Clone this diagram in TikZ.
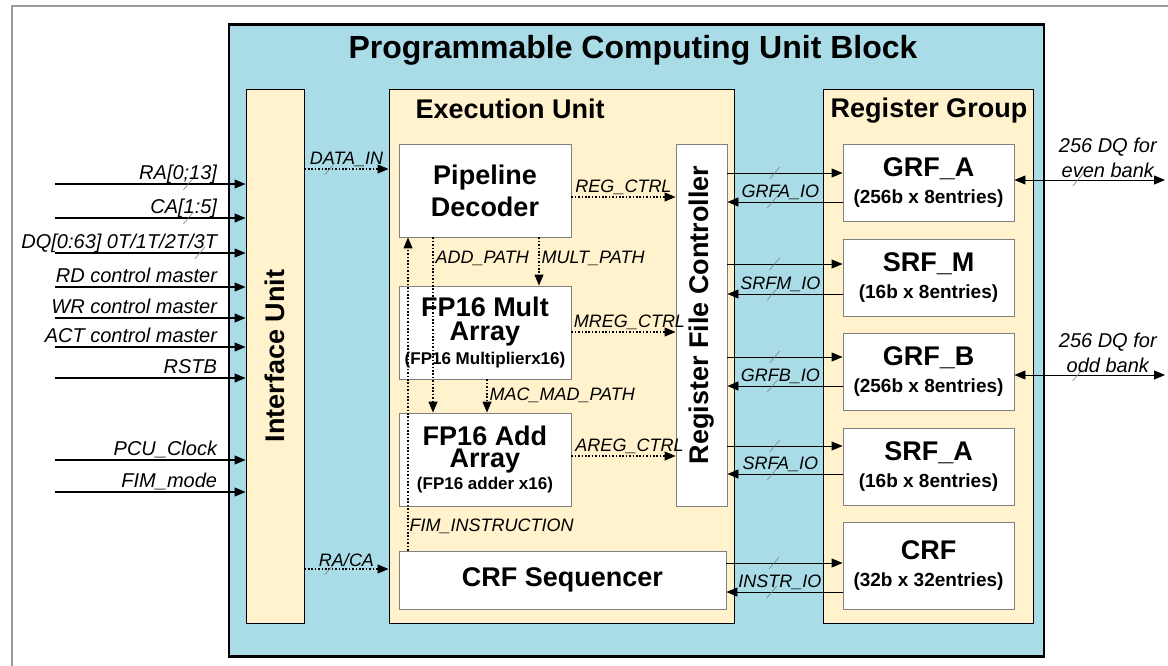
\documentclass[tikz,border=0pt]{standalone}
\usepackage{fontspec}
\setmainfont{Liberation Sans}
\usetikzlibrary{arrows.meta,decorations.markings}

\definecolor{pcublue}{RGB}{170,220,232}
\definecolor{unitcream}{RGB}{255,242,204}

\newcommand{\arraysub}[1]{{\fontsize{17}{20}\selectfont\bfseries #1}}
\newcommand{\regsub}[1]{{\fontsize{19}{22}\selectfont\bfseries #1}}

\begin{document}
\begin{tikzpicture}[
    x=1pt, y=-1pt,
    heading/.style={font=\fontsize{27}{27}\selectfont\bfseries},
    unit/.style={
        draw,
        line width=1pt,
        fill=unitcream,
        inner sep=0pt
    },
    block/.style={
        draw=gray,
        line width=0.9pt,
        fill=white,
        align=center,
        inner sep=0pt,
        minimum width=172,
        minimum height=93,
        font=\fontsize{27}{24}\selectfont\bfseries
    },
    regbox/.style={
        block,
        minimum width=171,
        minimum height=77,
        font=\fontsize{27}{27}\selectfont\bfseries
    },
    pathlabel/.style={font=\fontsize{18}{18}\selectfont\itshape, inner sep=2pt},
    inlabel/.style={font=\fontsize{20}{25}\selectfont\itshape, align=center, inner sep=2pt},
    headtip/.style={-{Triangle[length=11pt,width=9pt]}},
    arrow/.style={headtip, line width=1.1pt},
    dotarrow/.style={headtip, dash pattern=on 1.6pt off 1.8pt, line width=1.1pt},
    dqarrow/.style={{Triangle[length=11pt,width=9pt]}-{Triangle[length=11pt,width=9pt]}, line width=0.9pt},
    bus/.style={postaction={decorate, decoration={markings,
        mark=at position #1 with {\draw[-, solid, gray, line width=0.6pt] (-5,6) -- (5,-6);}}}}
]
\useasboundingbox (0,0) rectangle (1168,665);

% outer frame of the figure
\draw[gray!80, line width=1.2pt] (12,700) |- (1200,6);

% ---------------------------------------------------------------------------
% Programmable Computing Unit block
% ---------------------------------------------------------------------------
\node[draw, line width=2.5pt, fill=pcublue, inner sep=0pt,
      minimum width=815, minimum height=632] (pcu) at (636.5,340.5) {};
\node[font=\fontsize{32}{32}\selectfont\bfseries] (title) at (633,50)
    {Programmable Computing Unit Block};

% ---------------------------------------------------------------------------
% Interface Unit
% ---------------------------------------------------------------------------
\node[unit, minimum width=58, minimum height=534,
      label={[heading, rotate=90]center:Interface Unit}] (iu) at (275,356) {};

% ---------------------------------------------------------------------------
% Execution Unit
% ---------------------------------------------------------------------------
\node[unit, minimum width=345, minimum height=534] (eu) at (561.5,356) {};
\node[heading, anchor=base west] (eutitle) at (412,118) {Execution Unit};

\node[block, font=\fontsize{27}{32}\selectfont\bfseries] (pd) at (485,190.5)
    {Pipeline\\Decoder};
\node[block] (mult) at (485,332.5)
    {FP16 Mult\\Array\\\arraysub{(FP16 Multiplierx16)}};
\node[block, font=\fontsize{27}{22}\selectfont\bfseries] (add) at (485,459.5)
    {FP16 Add\\Array\\\arraysub{(FP16 adder x16)}};
\node[block, minimum width=327, minimum height=58] (crfseq) at (562.5,580)
    {CRF Sequencer};
\node[block, minimum width=51, minimum height=362,
      label={[heading, yshift=10pt, rotate=90]center:Register File Controller}] (rfc) at (701.5,325) {};

% ---------------------------------------------------------------------------
% Register Group
% ---------------------------------------------------------------------------
\node[unit, minimum width=210, minimum height=534] (rg) at (928,356) {};
\node[heading, anchor=base] (rgtitle) at (929,117) {Register Group};

\node[regbox] (grfa) at (928.5,182.5) {GRF\_A\\\regsub{(256b x 8entries)}};
\node[regbox] (srfm) at (928.5,277.5) {SRF\_M\\\regsub{(16b x 8entries)}};
\node[regbox] (grfb) at (928.5,371.5) {GRF\_B\\\regsub{(256b x 8entries)}};
\node[regbox] (srfa) at (928.5,466.5) {SRF\_A\\\regsub{(16b x 8entries)}};
\node[regbox, minimum height=87] (crf) at (928.5,565.5) {CRF\\\regsub{(32b x 32entries)}};

% ---------------------------------------------------------------------------
% Arrows -- external inputs to Interface Unit
% ---------------------------------------------------------------------------
\foreach \y/\txt/\nm/\bp in {184/{RA[0;13]}/ra/0.7, 218/{CA[1:5]}/ca/0.7,
    253/{DQ[0:63] 0T/1T/2T/3T}/dq/0.76}{
    \coordinate (\nm) at (55,\y);
    \draw[arrow, bus=\bp] (\nm) -- node[inlabel, pos=0.864, anchor=base east, yshift=5pt] {\txt} (iu.west |- \nm);
}
\foreach \y/\txt/\nm in {287/RD control master/rd, 318/WR control master/wr,
    347/ACT control master/act, 378/RSTB/rstb, 460/PCU\_Clock/pcuclk, 492/FIM\_mode/fimmode}{
    \coordinate (\nm) at (55,\y);
    \draw[arrow] (\nm) -- node[inlabel, pos=0.864, anchor=base east, yshift=5pt] {\txt} (iu.west |- \nm);
}

% ---------------------------------------------------------------------------
% Arrows -- Interface Unit to Execution Unit
% ---------------------------------------------------------------------------
\draw[dotarrow, bus=0.3] (iu.east |- 0,169) -- node[pathlabel, above] {DATA\_IN} (eu.west |- 0,169);
\draw[dotarrow, bus=0.3] (iu.east |- 0,569) -- node[pathlabel, above] {RA/CA} (eu.west |- 0,569);

% ---------------------------------------------------------------------------
% Arrows -- inside the Execution Unit
% ---------------------------------------------------------------------------
\draw[dotarrow] (433,0 |- pd.south) -- node[pathlabel, pos=0.12, right] {ADD\_PATH} (433,0 |- add.north);
\draw[dotarrow] (539,0 |- pd.south) -- node[pathlabel, pos=0.43, right] {MULT\_PATH} (539,0 |- mult.north);
\draw[dotarrow] (487,0 |- mult.south) -- node[pathlabel, pos=0.47, right] {MAC\_MAD\_PATH} (487,0 |- add.north);
\draw[dotarrow] (408,0 |- crfseq.north) -- node[pathlabel, pos=0.076, right, inner sep=1pt] {FIM\_INSTRUCTION} (408,0 |- pd.south);

\draw[dotarrow] (pd.east |- 0,197) -- node[pathlabel, above] {REG\_CTRL} (rfc.west |- 0,197);
\draw[dotarrow] (mult.east |- 0,332) -- node[pathlabel, above, xshift=6pt] {MREG\_CTRL} (rfc.west |- 0,332);
\draw[dotarrow] (add.east |- 0,456) -- node[pathlabel, above, xshift=6pt] {AREG\_CTRL} (rfc.west |- 0,456);

% ---------------------------------------------------------------------------
% Arrows -- Register File Controller / CRF Sequencer to Register Group
% ---------------------------------------------------------------------------
\foreach \src/\reg/\ya/\yb/\txt in {rfc/grfa/173/202/GRFA\_IO, rfc/srfm/264/294/SRFM\_IO,
    rfc/grfb/357/386/GRFB\_IO, rfc/srfa/446/474/SRFA\_IO, crfseq/crf/563/592/INSTR\_IO}{
    \draw[arrow, line width=0.9pt, bus=0.41] (\src.east |- 0,\ya) -- (\reg.west |- 0,\ya);
    \draw[arrow, line width=0.9pt, bus=0.61] (\reg.west |- 0,\yb) -- node[pathlabel, pos=0.54, above] {\txt} (\src.east |- 0,\yb);
}

% ---------------------------------------------------------------------------
% Arrows -- DQ to the banks
% ---------------------------------------------------------------------------
\coordinate (evenbank) at (1165,180);
\coordinate (oddbank) at (1165,375);
\draw[dqarrow, bus=0.42] (grfa.east |- evenbank) -- node[inlabel, pos=0.62, above] {256 DQ for\\even bank} (evenbank);
\draw[dqarrow, bus=0.42] (grfb.east |- oddbank) -- node[inlabel, pos=0.62, above] {256 DQ for\\odd bank} (oddbank);

\end{tikzpicture}
\end{document}
